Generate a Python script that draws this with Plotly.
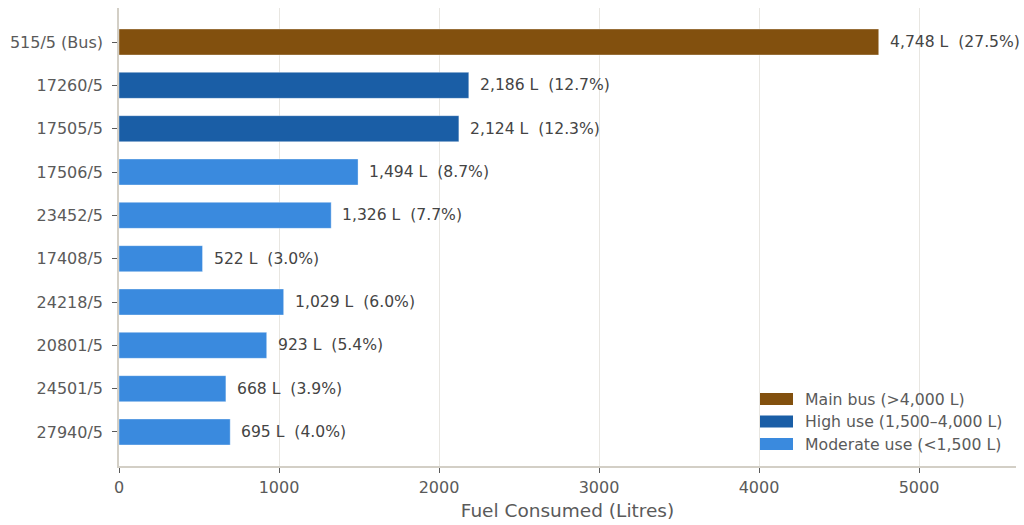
import plotly.graph_objects as go

# Fuel consumption per generator / bus
categories = ["515/5 (Bus)", "17260/5", "17505/5", "17506/5", "23452/5",
              "17408/5", "24218/5", "20801/5", "24501/5", "27940/5"]
litres = [4748, 2186, 2124, 1494, 1326, 522, 1029, 923, 668, 695]
shares = [27.5, 12.7, 12.3, 8.7, 7.7, 3.0, 6.0, 5.4, 3.9, 4.0]
groups = ["bus", "high", "high", "mod", "mod", "mod", "mod", "mod", "mod", "mod"]

group_keys = ["bus", "high", "mod"]
group_names = ["Main bus (>4,000 L)", "High use (1,500\u20134,000 L)", "Moderate use (<1,500 L)"]
group_colors = ["#82500E", "#1A5EA6", "#3A8ADE"]

FONT = "DejaVu Sans"
TEXT = "#5A5A5A"
LABEL = "#444444"
SPINE = "#D3CFC6"

fig = go.Figure()
positions = list(range(len(categories)))

for key, name, color in zip(group_keys, group_names, group_colors):
    idx = [i for i, g in enumerate(groups) if g == key]
    fig.add_trace(go.Bar(
        x=[litres[i] for i in idx],
        y=[positions[i] for i in idx],
        orientation="h",
        width=0.6,
        name=name,
        marker=dict(color=color, line=dict(color="rgba(255,255,255,0.35)", width=1)),
        showlegend=False,
        hoverinfo="x+y",
    ))

# Value labels to the right of each bar
for i, (v, s) in enumerate(zip(litres, shares)):
    fig.add_annotation(
        x=v, y=positions[i], xref="x", yref="y",
        text=f"{v:,} L\u00a0\u00a0({s:.1f}%)",
        showarrow=False, xanchor="left", yanchor="middle", xshift=9,
        font=dict(family=FONT, size=15.6, color=LABEL),
    )

# Legend drawn as patches + text, lower right of the plot area
W, H = 1024, 525
ml, mr, mt, mb = 119, 8, 8, 59
pw, ph = W - ml - mr, H - mt - mb
def px_x(p):
    return (p - ml) / pw
def px_y(p):
    return 1 - (p - mt) / ph

for k, (name, color) in enumerate(zip(group_names, group_colors)):
    yc = 399 + k * 22.5
    fig.add_shape(type="rect", xref="paper", yref="paper",
                  x0=px_x(760), x1=px_x(793), y0=px_y(yc + 6), y1=px_y(yc - 6),
                  fillcolor=color, line=dict(width=0))
    fig.add_annotation(x=px_x(803), y=px_y(yc), xref="paper", yref="paper",
                       text=name, showarrow=False, xanchor="left", yanchor="middle",
                       font=dict(family=FONT, size=15.7, color=TEXT))

fig.update_layout(
    width=W, height=H,
    margin=dict(l=ml, r=mr, t=mt, b=mb, pad=0),
    paper_bgcolor="white", plot_bgcolor="white",
    barmode="overlay",
    font=dict(family=FONT, size=16, color=TEXT),
    showlegend=False,
)
fig.update_xaxes(
    range=[0, 5606],
    automargin=False,
    tickvals=[0, 1000, 2000, 3000, 4000, 5000],
    ticktext=["0", "1000", "2000", "3000", "4000", "5000"],
    showgrid=True, gridcolor="#E8E6E1", gridwidth=1,
    zeroline=False,
    showline=True, linecolor=SPINE, linewidth=1.5,
    ticks="outside", ticklen=5, tickcolor=TEXT, tickwidth=1,
    ticklabelstandoff=1,
    tickfont=dict(family=FONT, size=16, color=TEXT),
    title=dict(text="Fuel Consumed (Litres)", font=dict(family=FONT, size=18.5, color=TEXT), standoff=8),
)
fig.update_yaxes(
    range=[9.785, -0.785],
    automargin=False,
    tickvals=positions, ticktext=categories,
    showgrid=False, zeroline=False,
    showline=True, linecolor=SPINE, linewidth=1.5,
    ticks="outside", ticklen=5, tickcolor=TEXT, tickwidth=1,
    ticklabelstandoff=6,
    tickfont=dict(family=FONT, size=16, color=TEXT),
)

fig.write_html("out.html")
